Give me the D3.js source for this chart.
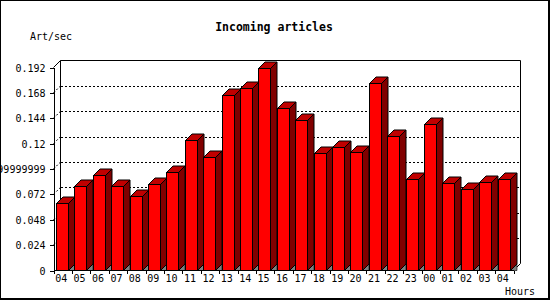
<!DOCTYPE html>
<html>
<head>
<meta charset="utf-8">
<script src="https://cdn.jsdelivr.net/npm/d3@7/dist/d3.min.js"></script>
<style>
  html, body { margin: 0; padding: 0; background: #fff; }
  svg { display: block; }
  text { font-family: "DejaVu Sans Mono", "Liberation Mono", monospace; fill: #000; }
</style>
</head>
<body>
<svg id="chart" width="550" height="300"></svg>
<script>
const title = "Incoming articles";
const yLabel = "Art/sec";
const xLabel = "Hours";
const categories = ["04","05","06","07","08","09","10","11","12","13","14","15","16","17","18","19","20","21","22","23","00","01","02","03","04"];
const values = [0.0639,0.0803,0.0904,0.0803,0.0708,0.0819,0.0935,0.1237,0.1077,0.1662,0.1725,0.1915,0.1536,0.1423,0.1111,0.1165,0.1121,0.1772,0.1272,0.0866,0.1385,0.0828,0.0771,0.0838,0.0869];
const yTicks = [0, 0.024, 0.048, 0.072, 0.096, 0.12, 0.144, 0.168, 0.192];
const yTickLabels = ["0","0.024","0.048","0.072","0.09599999999999999","0.12","0.144","0.168","0.192"];

const svg = d3.select("#chart");

// layout
const x0 = 53.5, x1 = 513.5, yBottom = 270.5, yTop = 67.5;
const wallD = 7;      // depth of back wall
const barD = 6.5;     // depth of bars

const x = d3.scaleBand().domain(d3.range(categories.length)).range([x0, x1]).paddingInner(0).paddingOuter(0);
const y = d3.scaleLinear().domain([0, 0.192]).range([yBottom, yTop]);
const bw = x.bandwidth();
const frontOff = bw * 0.135, frontW = bw * 0.625;

// outer border
svg.append("rect").attr("x", 0.5).attr("y", 0.5).attr("width", 548).attr("height", 298)
  .attr("fill", "#fff").attr("stroke", "#000").attr("stroke-width", 1);
svg.append("line").attr("x1", 549.5).attr("y1", 0).attr("x2", 549.5).attr("y2", 300).attr("stroke", "#000");
svg.append("line").attr("x1", 0).attr("y1", 299.5).attr("x2", 550).attr("y2", 299.5).attr("stroke", "#000");

// gridlines on back wall
const g = svg.append("g");
yTicks.filter(v => v > 0 && v < 0.192).forEach(v => {
  g.append("line")
    .attr("x1", x0 + wallD).attr("x2", x1 + wallD)
    .attr("y1", Math.round(y(v) - wallD) + 0.5).attr("y2", Math.round(y(v) - wallD) + 0.5)
    .attr("stroke", "#000").attr("stroke-dasharray", "2,2").attr("shape-rendering", "crispEdges");
  g.append("line")
    .attr("x1", x0).attr("y1", y(v))
    .attr("x2", x0 + wallD).attr("y2", y(v) - wallD)
    .attr("stroke", "#000").attr("stroke-dasharray", "2,2");
});

// back frame
const backTop = y(0.192) - wallD, backBottom = yBottom - wallD;
g.append("path")
  .attr("d", `M${x0 + wallD},${backBottom} L${x0 + wallD},${backTop} L${x1 + wallD},${backTop} L${x1 + wallD},${backBottom} L${x1},${yBottom}`)
  .attr("fill", "none").attr("stroke", "#000").attr("stroke-width", 1);
g.append("line").attr("x1", x0).attr("y1", yTop).attr("x2", x0 + wallD).attr("y2", backTop).attr("stroke", "#000");

// bars
const bars = svg.append("g");
values.forEach((v, i) => {
  const fx = Math.round(x(i) + frontOff) + 0.5;
  const fw = Math.round(frontW);
  const rx = fx + fw;
  const ty = Math.round(y(v)) + 0.5;
  const by = yBottom;
  // floor triangle under side
  bars.append("path")
    .attr("d", `M${rx},${by} L${rx + barD},${by - barD} L${rx + barD},${by} Z`)
    .attr("fill", "#808080").attr("stroke", "#000").attr("stroke-width", 0.6);
  // side
  bars.append("path")
    .attr("d", `M${rx},${ty} L${rx + barD},${ty - barD} L${rx + barD},${by - barD} L${rx},${by} Z`)
    .attr("fill", "#800000").attr("stroke", "#000");
  // top
  bars.append("path")
    .attr("d", `M${fx},${ty} L${fx + barD},${ty - barD} L${rx + barD},${ty - barD} L${rx},${ty} Z`)
    .attr("fill", "#c00000").attr("stroke", "#000");
  // front
  bars.append("rect")
    .attr("x", fx).attr("y", ty).attr("width", fw).attr("height", by - ty)
    .attr("fill", "#ff0000").attr("stroke", "#000").attr("shape-rendering", "crispEdges");
});

// y axis
const yAxis = d3.axisLeft(y).tickValues(yTicks).tickFormat((d, i) => yTickLabels[i]).tickSize(4).tickSizeOuter(0).tickPadding(4);
const ya = svg.append("g").attr("transform", `translate(${x0},0)`).call(yAxis);
ya.selectAll("text").style("font-size", "10px").attr("dy", "0.35em");
ya.selectAll("line, path").attr("stroke", "#000").attr("shape-rendering", "crispEdges");

// x axis floor line + ticks at band boundaries
svg.append("line").attr("x1", x0).attr("x2", x1).attr("y1", yBottom).attr("y2", yBottom)
  .attr("stroke", "#000").attr("shape-rendering", "crispEdges");
d3.range(categories.length + 1).forEach(i => {
  const xx = Math.round(i < categories.length ? x(i) : x1 ) + 0.5;
  svg.append("line").attr("x1", xx).attr("x2", xx).attr("y1", yBottom).attr("y2", yBottom + 3.5)
    .attr("stroke", "#000").attr("shape-rendering", "crispEdges");
});
const xAxis = d3.axisBottom(x).tickFormat(i => categories[i]).tickSize(0).tickPadding(4);
const xa = svg.append("g").attr("transform", `translate(-1.5,${yBottom})`).call(xAxis);
xa.select(".domain").remove();
xa.selectAll("text").style("font-size", "10px");

// titles
svg.append("text").attr("x", 274).attr("y", 31).attr("text-anchor", "middle")
  .style("font-size", "11.5px").style("font-weight", "bold").text(title);
svg.append("text").attr("x", 30).attr("y", 40).style("font-size", "10px").text(yLabel);
svg.append("text").attr("x", 505).attr("y", 295).style("font-size", "10px").text(xLabel);
</script>
</body>
</html>
